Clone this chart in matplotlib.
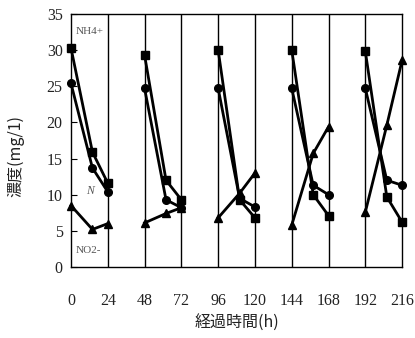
import numpy as np
import matplotlib
matplotlib.use("Agg")
import matplotlib.pyplot as plt

# sampling times (h), three samples per 24 h batch
hours = [0, 14, 24, 48, 62, 72, 96, 110, 120, 144, 158, 168, 192, 206, 216]
nh4 = [30.3, 15.9, 11.6, 29.3, 12.0, 9.3, 30.0, 9.3, 6.8, 30.0, 10.0, 7.1, 29.8, 9.7, 6.2]
n_tot = [25.4, 13.7, 10.4, 24.7, 9.3, 8.2, 24.7, 9.5, 8.3, 24.7, 11.3, 10.0, 24.7, 12.0, 11.3]
no2 = [8.5, 5.2, 6.0, 6.1, 7.4, 8.2, 6.8, 10.2, 13.0, 5.8, 15.7, 19.4, 7.6, 19.6, 28.6]

xticks = [0, 24, 48, 72, 96, 120, 144, 168, 192, 216]
yticks = [0, 5, 10, 15, 20, 25, 30, 35]

SERIF = ["Liberation Serif", "DejaVu Serif"]
JP = ["Noto Sans CJK JP", "DejaVu Sans"]

fig = plt.figure(figsize=(4.15, 3.38), dpi=100)
ax = fig.add_axes([0.171, 0.210, 0.798, 0.749])

for x in xticks[1:-1]:
    ax.axvline(x, color="black", lw=1.0, zorder=1)

h = np.array(hours, dtype=float)
series = [
    (np.array(nh4), "s"),
    (np.array(n_tot), "o"),
    (np.array(no2), "^"),
]
for vals, mk in series:
    for i in range(0, len(h), 3):
        ax.plot(h[i:i + 3], vals[i:i + 3], color="black", lw=2.0,
                marker=mk, markersize=5.5, zorder=3, clip_on=False)

ax.set_xlim(0, 216)
ax.set_ylim(0, 35)
ax.set_xticks(xticks)
ax.set_yticks(yticks)
ax.tick_params(axis="x", length=0, pad=19)
ax.tick_params(axis="y", direction="in", length=4, pad=6)
for lab in ax.get_xticklabels() + ax.get_yticklabels():
    lab.set_family(SERIF)
    lab.set_fontsize(11.5)
    lab.set_color("#222222")
for sp in ax.spines.values():
    sp.set_linewidth(1.0)

ax.text(3, 32.5, "NH4+", family=SERIF, fontsize=8, color="#555555", va="center")
ax.text(10, 10.5, "N", family=SERIF, fontsize=8.5, color="#555555",
        va="center", style="italic")
ax.text(3, 2.3, "NO2-", family=SERIF, fontsize=8, color="#555555", va="center")

ax.set_xlabel("経過時間(h)", family=JP, fontsize=11.5,
              color="#222222", labelpad=4)
ax.set_ylabel("濃度(mg/1)", family=JP, fontsize=11.5,
              color="#222222", labelpad=8)
ax.yaxis.set_label_coords(-0.14, 0.44)

fig.savefig("out.png", dpi=100)
